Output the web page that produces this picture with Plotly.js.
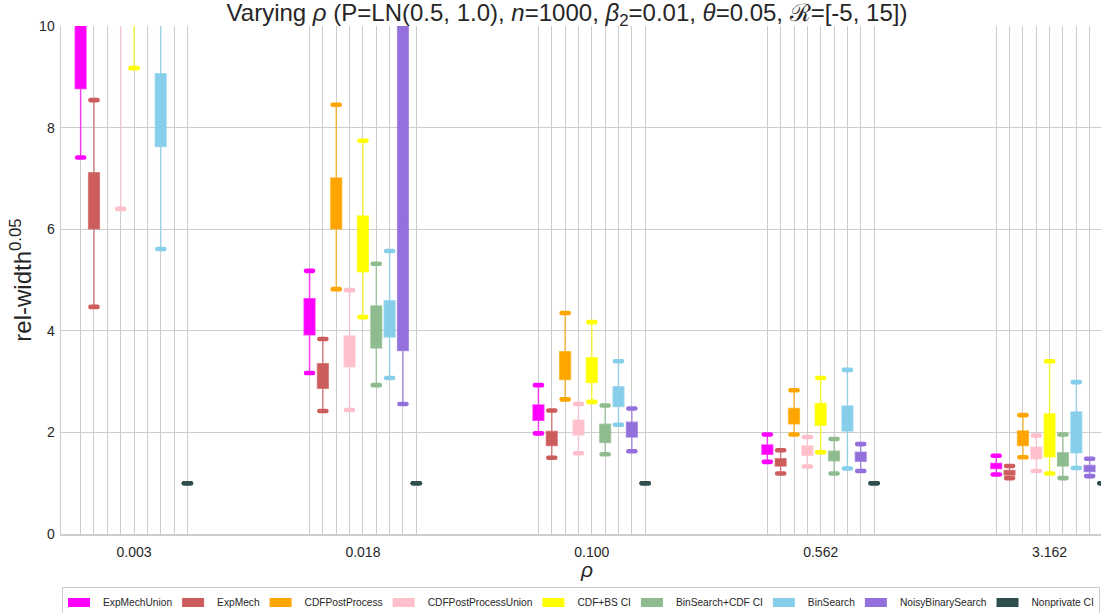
<!DOCTYPE html>
<html><head><meta charset="utf-8">
<script src="https://cdn.plot.ly/plotly-3.0.1.min.js"></script>
<style>
html,body{margin:0;padding:0;background:#fff}
#chart{width:1101px;height:613px}
.js-plotly-plot .scatterlayer .points path{stroke-linecap:round}
</style></head><body><div id="chart"></div>
<script>
// categories (rho values) and methods
const rhoLabels = ['0.003','0.018','0.100','0.562','3.162'];
const methods = ['ExpMechUnion','ExpMech','CDFPostProcess','CDFPostProcessUnion','CDF+BS CI','BinSearch+CDF CI','BinSearch','NoisyBinarySearch','Nonprivate CI'];
const colors = ['#FF00FF','#CD5C5C','#FFA500','#FFC0CB','#FFFF00','#8FBC8F','#87CEEB','#9370DB','#2F4F4F'];

// box statistics: one row per method, one value per rho
const whiskerLow = [
  [7.41, 3.17, 1.98, 1.42, 1.17],
  [4.47, 2.42, 1.50, 1.19, 1.10],
  [10.6, 4.82, 2.65, 1.96, 1.51],
  [6.40, 2.44, 1.59, 1.33, 1.24],
  [9.17, 4.27, 2.60, 1.61, 1.19],
  [10.7, 2.93, 1.57, 1.19, 1.10],
  [5.61, 3.07, 2.15, 1.29, 1.30],
  [11.2, 2.56, 1.63, 1.24, 1.14],
  [1.0, 1.0, 1.0, 1.0, 1.0]
];
const boxQ1 = [
  [8.77, 3.92, 2.24, 1.57, 1.29],
  [6.01, 2.87, 1.74, 1.34, 1.16],
  [12.0, 6.01, 3.04, 2.17, 1.74],
  [10.9, 3.29, 1.95, 1.55, 1.48],
  [10.6, 5.16, 2.98, 2.14, 1.52],
  [11.6, 3.66, 1.80, 1.44, 1.34],
  [7.63, 3.88, 2.51, 2.03, 1.60],
  [13.5, 3.61, 1.91, 1.43, 1.23],
  [1.0, 1.0, 1.0, 1.0, 1.0]
];
const boxMedian = [
  [9.9, 4.25, 2.38, 1.66, 1.34],
  [6.5, 3.10, 1.88, 1.41, 1.20],
  [13.0, 6.45, 3.30, 2.31, 1.88],
  [11.8, 3.58, 2.09, 1.64, 1.59],
  [11.4, 5.68, 3.21, 2.34, 1.88],
  [12.4, 4.05, 1.97, 1.53, 1.46],
  [8.3, 4.22, 2.70, 2.26, 1.95],
  [15.5, 6.20, 2.05, 1.52, 1.29],
  [1.0, 1.0, 1.0, 1.0, 1.0]
];
const boxQ3 = [
  [11.3, 4.63, 2.54, 1.75, 1.39],
  [7.11, 3.35, 2.02, 1.48, 1.25],
  [14.2, 7.01, 3.59, 2.47, 2.03],
  [12.9, 3.90, 2.24, 1.73, 1.71],
  [12.4, 6.26, 3.47, 2.57, 2.36],
  [13.4, 4.49, 2.16, 1.63, 1.60],
  [9.06, 4.59, 2.90, 2.52, 2.40],
  [18.0, 11.5, 2.20, 1.61, 1.35],
  [1.0, 1.0, 1.0, 1.0, 1.0]
];
const whiskerHigh = [
  [14.2, 5.18, 2.93, 1.96, 1.54],
  [8.54, 3.84, 2.43, 1.65, 1.34],
  [17.5, 8.45, 4.35, 2.83, 2.34],
  [15.6, 4.80, 2.56, 1.91, 1.94],
  [15.2, 7.74, 4.17, 3.07, 3.40],
  [16.1, 5.32, 2.53, 1.87, 1.96],
  [11.2, 5.57, 3.40, 3.23, 2.99],
  [23.0, 14.5, 2.47, 1.77, 1.48],
  [1.0, 1.0, 1.0, 1.0, 1.0]
];

// layout of the dodged boxes
const slot = 0.0583, boxW = 0.0467;
const nM = methods.length;
function pos(k){ return rhoLabels.map((_, g) => g + (k - (nM - 1) / 2) * slot); }
function rgba(hex, a){
  const n = parseInt(hex.slice(1), 16);
  return 'rgba(' + (n >> 16 & 255) + ',' + (n >> 8 & 255) + ',' + (n & 255) + ',' + a + ')';
}

const traces = [];
const allPos = [];
methods.forEach((m, k) => {
  const xs = pos(k);
  if (k !== (nM - 1) / 2) allPos.push(...xs);
  traces.push({
    type: 'box', name: m, x: xs,
    q1: boxQ1[k], median: boxMedian[k], q3: boxQ3[k],
    lowerfence: whiskerLow[k], upperfence: whiskerHigh[k],
    width: boxW, whiskerwidth: 0, boxpoints: false,
    fillcolor: colors[k], line: {color: rgba(colors[k], 0.7), width: 1.5},
    showlegend: false, hoverinfo: 'skip'
  });
  traces.push({
    type: 'scatter', mode: 'markers', x: xs.concat(xs), y: whiskerLow[k].concat(whiskerHigh[k]),
    marker: {symbol: 'line-ew', size: 5, color: colors[k], line: {color: colors[k], width: 4.6}},
    showlegend: false, hoverinfo: 'skip'
  });
});
methods.forEach((m, k) => {
  traces.push({type: 'scatter', mode: 'lines', name: m, x: [null], y: [null],
    line: {color: colors[k], width: 9, dash: '22px,40px'}, showlegend: true});
});

const txt = '#262626';
const grid = '#cdcdcd';
const layout = {
  width: 1101, height: 613,
  margin: {l: 61, r: 0, t: 26, b: 79},
  paper_bgcolor: '#fff', plot_bgcolor: '#fff',
  font: {family: '"Liberation Sans", Arial, sans-serif', color: txt},
  title: {text: 'Varying <i>ρ</i> (P=LN(0.5, 1.0), <i>n</i>=1000, <i>β</i><sub>2</sub>=0.01, <i>θ</i>=0.05, ℛ=[-5, 15])',
    font: {size: 24, color: txt}, xref: 'container', x: 567 / 1101, xanchor: 'center',
    yref: 'container', y: 1 - 13 / 613, yanchor: 'middle'},
  boxmode: 'overlay',
  xaxis: {range: [-0.319, 4.2245], tickmode: 'array', tickvals: [0, 1, 2, 3, 4], ticktext: rhoLabels,
    showgrid: true, gridcolor: grid, gridwidth: 1,
    minor: {tickmode: 'array', tickvals: allPos, showgrid: true, gridcolor: grid, gridwidth: 1, ticks: ''},
    zeroline: false, showline: true, linecolor: grid, linewidth: 1.5, ticks: '',
    tickfont: {size: 14, color: txt}, ticklabelstandoff: 5},
  yaxis: {range: [0, 10], tickmode: 'linear', tick0: 0, dtick: 2,
    showgrid: true, gridcolor: grid, gridwidth: 1, zeroline: false,
    showline: true, linecolor: grid, linewidth: 1.5, ticks: '',
    tickfont: {size: 14, color: txt}, ticklabelstandoff: 2,
    title: {text: 'rel-width<sup>0.05</sup>', font: {size: 24, color: txt}, standoff: 0}},
  annotations: [{text: '<i>ρ</i>', xref: 'paper', yref: 'paper', x: 0.505, y: -(569 - 534) / 508,
    xanchor: 'center', yanchor: 'middle', showarrow: false, font: {size: 21, color: txt}}],
  legend: {orientation: 'h', xref: 'container', x: 62 / 1101, xanchor: 'left',
    yref: 'container', y: 1 - 587 / 613, yanchor: 'top',
    bordercolor: '#cccccc', borderwidth: 1, bgcolor: '#fff',
    font: {size: 10.2, color: txt}, traceorder: 'normal'},
  showlegend: true
};
Plotly.newPlot('chart', traces, layout, {displayModeBar: false, staticPlot: true});
</script></body></html>
